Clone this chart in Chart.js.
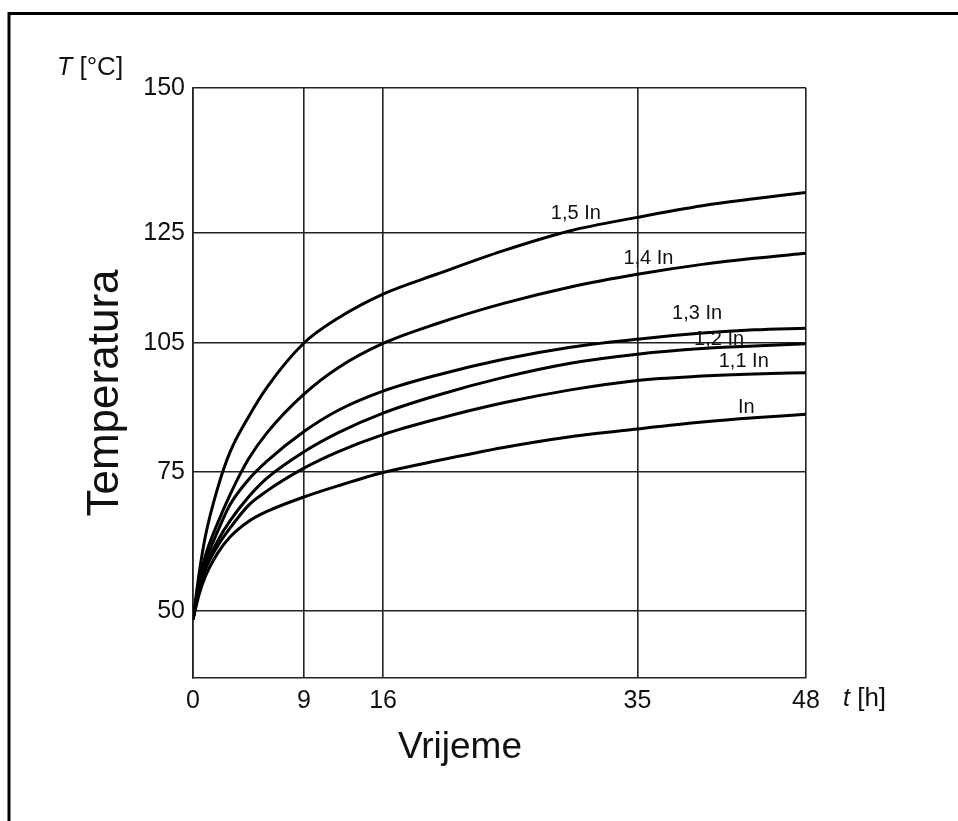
<!DOCTYPE html>
<html>
<head>
<meta charset="utf-8">
<title>Temperatura / Vrijeme</title>
<script src="https://cdn.jsdelivr.net/npm/chart.js@4.4.1/dist/chart.umd.min.js"></script>
<style>
    html, body { margin: 0; padding: 0; background: #fff; }
    #chart { display: block; }
</style>
</head>
<body>
<canvas id="chart" width="958" height="821"></canvas>
<script>
/* =========================================================
   DATA
========================================================= */

// vrijeme t [h]
const T_HOURS = [0, 0.5, 1, 2, 3, 4.5, 6, 9, 12, 16, 20, 25, 30, 35, 40, 44, 48];

// temperatura T [°C] per load current
const TEMP_150 = [48.5, 56.8, 63.4, 72.1, 79.6, 87.8, 94.7, 105, 109.5, 113.9, 117.5, 121.8, 125.4, 127.7, 129.7, 130.9, 132.0];
const TEMP_140 = [48.5, 55.2, 59.9, 65.8, 70.9, 78.0, 84.1, 93.1, 99.2, 104.9, 108.5, 112.2, 115.2, 117.5, 119.3, 120.4, 121.3];
const TEMP_130 = [48.5, 54.6, 58.8, 64.3, 69.1, 73.6, 77.5, 84.4, 89.3, 93.8, 97.5, 101.2, 104.0, 105.7, 106.8, 107.4, 107.7];
const TEMP_120 = [48.5, 54.0, 57.9, 62.6, 66.2, 70.5, 73.9, 79.7, 84.1, 88.7, 92.8, 97.0, 100.3, 102.4, 103.7, 104.3, 104.8];
const TEMP_110 = [48.5, 53.8, 57.4, 61.7, 64.9, 69.0, 71.6, 75.9, 79.7, 83.7, 87.3, 91.1, 94.1, 96.3, 97.3, 97.8, 98.1];
const TEMP_100 = [48.5, 53.0, 56.2, 60.4, 63.3, 66.1, 67.9, 70.5, 72.5, 74.9, 77.6, 80.7, 83.2, 85.0, 86.6, 87.6, 88.4];

const SERIES_NAMES = ["1,5 In", "1,4 In", "1,3 In", "1,2 In", "1,1 In", "In"];
const SERIES = [TEMP_150, TEMP_140, TEMP_130, TEMP_120, TEMP_110, TEMP_100];

const X_TICKS = [0, 9, 16, 35, 48];
const Y_TICKS = [50, 75, 105, 125, 150];

/* =========================================================
   SCALE
   the drawing is not to scale: the grid lines sit at uneven
   spacing, so value -> axis fraction is piecewise between them
========================================================= */

const AXIS_BREAKS = {
    x: [[0, 0], [9, 0.181], [16, 0.310], [35, 0.725], [48, 1]],
    y: [[38, 0], [50, 0.1136], [75, 0.3492], [105, 0.5678], [125, 0.7542], [150, 1]]
};

function lerpBreaks(s, v, from, to) {
    let i = 1;
    while (i < s.length - 1 && v > s[i][from]) i++;
    const a = s[i - 1], b = s[i];
    return a[to] + (v - a[from]) / (b[from] - a[from]) * (b[to] - a[to]);
}

class WarpScale extends Chart.LinearScale {
    getPixelForValue(value) {
        return this.getPixelForDecimal(lerpBreaks(AXIS_BREAKS[this.id], value, 0, 1));
    }
    getValueForPixel(pixel) {
        return lerpBreaks(AXIS_BREAKS[this.id], this.getDecimalForPixel(pixel), 1, 0);
    }
}
WarpScale.id = "warp";
WarpScale.defaults = Chart.LinearScale.defaults;
Chart.register(WarpScale);

/* =========================================================
   TEXT (axis names, curve labels, frame)
========================================================= */

const FONT = "'Liberation Sans', Arial, sans-serif";

// where each curve name is written, in data units [t, T]
const LABEL_AT = [[30.4, 128.3], [35.85, 120.3], [39.6, 110.3], [41.3, 105.7], [43.2, 100.6], [43.4, 90.1]];

const annotations = {
    id: "annotations",
    afterDraw(chart) {
        const ctx = chart.ctx;
        const { x, y } = chart.scales;
        ctx.save();

        // frame
        ctx.strokeStyle = "#000";
        ctx.lineWidth = 3;
        ctx.beginPath();
        ctx.moveTo(9, 830);
        ctx.lineTo(9, 13.5);
        ctx.lineTo(970, 13.5);
        ctx.stroke();

        ctx.fillStyle = "#111";
        ctx.textBaseline = "alphabetic";
        ctx.textAlign = "left";

        // T [°C]
        ctx.font = `italic 25px ${FONT}`;
        ctx.fillText("T", 57, 75);
        let w = ctx.measureText("T").width;
        ctx.font = `26px ${FONT}`;
        ctx.fillText(" [°C]", 57 + w, 75);

        // t [h]
        ctx.font = `italic 25px ${FONT}`;
        ctx.fillText("t", 843, 706);
        w = ctx.measureText("t").width;
        ctx.font = `26px ${FONT}`;
        ctx.fillText(" [h]", 843 + w, 706);

        // Vrijeme
        ctx.textAlign = "center";
        ctx.font = `37px ${FONT}`;
        ctx.fillText("Vrijeme", 460, 758);

        // Temperatura
        ctx.save();
        ctx.translate(118, 393);
        ctx.rotate(-Math.PI / 2);
        ctx.font = `44px ${FONT}`;
        ctx.fillText("Temperatura", 0, 0);
        ctx.restore();

        // curve names
        ctx.font = `20px ${FONT}`;
        ctx.textBaseline = "middle";
        SERIES_NAMES.forEach((name, i) => {
            const [t, temp] = LABEL_AT[i];
            ctx.fillText(name, x.getPixelForValue(t), y.getPixelForValue(temp));
        });

        ctx.restore();
    }
};

/* =========================================================
   CHART
========================================================= */

const GRID = "#222";

new Chart(document.getElementById("chart"), {
    type: "line",
    data: {
        datasets: SERIES.map((vals, i) => ({
            label: SERIES_NAMES[i],
            data: T_HOURS.map((t, k) => ({ x: t, y: vals[k] })),
            borderColor: "#000",
            borderWidth: 3,
            pointRadius: 0,
            fill: false,
            cubicInterpolationMode: "monotone"
        }))
    },
    options: {
        responsive: false,
        animation: false,
        layout: {
            padding: { left: 0, top: 88, right: 152, bottom: 0 }
        },
        plugins: {
            legend: { display: false },
            tooltip: { enabled: false }
        },
        scales: {
            x: {
                type: "warp",
                position: "bottom",
                min: 0,
                max: 48,
                afterBuildTicks: s => { s.ticks = X_TICKS.map(v => ({ value: v })); },
                afterFit: s => { s.height = 143; },
                grid: { color: GRID, lineWidth: 1.6, drawTicks: false },
                border: { display: true, color: GRID, width: 1.6 },
                ticks: {
                    autoSkip: false,
                    maxRotation: 0,
                    padding: 8,
                    color: "#111",
                    font: { family: FONT, size: 25 }
                }
            },
            y: {
                type: "warp",
                position: "left",
                min: 38,
                max: 150,
                afterBuildTicks: s => { s.ticks = Y_TICKS.map(v => ({ value: v })); },
                afterFit: s => { s.width = 193; },
                grid: { color: GRID, lineWidth: 1.6, drawTicks: false },
                border: { display: true, color: GRID, width: 1.6 },
                ticks: {
                    autoSkip: false,
                    padding: 8,
                    color: "#111",
                    font: { family: FONT, size: 25 }
                }
            }
        }
    },
    plugins: [annotations]
});
</script>
</body>
</html>
